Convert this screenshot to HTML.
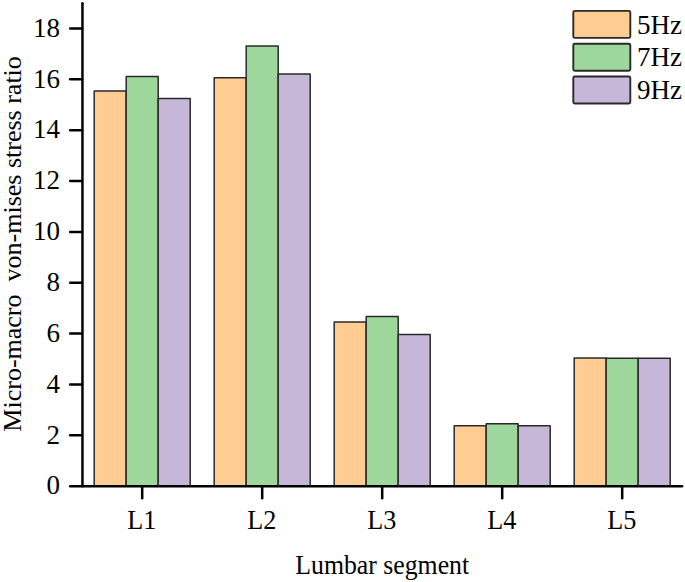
<!DOCTYPE html>
<html><head><meta charset="utf-8"><style>
html,body{margin:0;padding:0;background:#fff;}
svg{display:block;}
.t{font-family:"Liberation Serif",serif;font-size:27px;fill:#000;}
.t2{font-family:"Liberation Serif",serif;font-size:26px;fill:#000;}
</style></head><body>
<svg width="685" height="582" viewBox="0 0 685 582">
<rect x="94.20" y="91.02" width="32" height="395.18" fill="#FFCD92" stroke="#2a2a2a" stroke-width="1.5" stroke-linejoin="round"/>
<rect x="126.20" y="76.52" width="32" height="409.68" fill="#9DD79C" stroke="#2a2a2a" stroke-width="1.5" stroke-linejoin="round"/>
<rect x="158.20" y="98.39" width="32" height="387.81" fill="#C6B6D8" stroke="#2a2a2a" stroke-width="1.5" stroke-linejoin="round"/>
<rect x="214.20" y="77.79" width="32" height="408.41" fill="#FFCD92" stroke="#2a2a2a" stroke-width="1.5" stroke-linejoin="round"/>
<rect x="246.20" y="46.01" width="32" height="440.19" fill="#9DD79C" stroke="#2a2a2a" stroke-width="1.5" stroke-linejoin="round"/>
<rect x="278.20" y="73.98" width="32" height="412.22" fill="#C6B6D8" stroke="#2a2a2a" stroke-width="1.5" stroke-linejoin="round"/>
<rect x="334.20" y="321.92" width="32" height="164.28" fill="#FFCD92" stroke="#2a2a2a" stroke-width="1.5" stroke-linejoin="round"/>
<rect x="366.20" y="316.58" width="32" height="169.62" fill="#9DD79C" stroke="#2a2a2a" stroke-width="1.5" stroke-linejoin="round"/>
<rect x="398.20" y="334.38" width="32" height="151.82" fill="#C6B6D8" stroke="#2a2a2a" stroke-width="1.5" stroke-linejoin="round"/>
<rect x="454.20" y="425.68" width="32" height="60.52" fill="#FFCD92" stroke="#2a2a2a" stroke-width="1.5" stroke-linejoin="round"/>
<rect x="486.20" y="423.64" width="32" height="62.56" fill="#9DD79C" stroke="#2a2a2a" stroke-width="1.5" stroke-linejoin="round"/>
<rect x="518.20" y="425.68" width="32" height="60.52" fill="#C6B6D8" stroke="#2a2a2a" stroke-width="1.5" stroke-linejoin="round"/>
<rect x="574.20" y="358.03" width="32" height="128.17" fill="#FFCD92" stroke="#2a2a2a" stroke-width="1.5" stroke-linejoin="round"/>
<rect x="606.20" y="358.29" width="32" height="127.91" fill="#9DD79C" stroke="#2a2a2a" stroke-width="1.5" stroke-linejoin="round"/>
<rect x="638.20" y="358.29" width="32" height="127.91" fill="#C6B6D8" stroke="#2a2a2a" stroke-width="1.5" stroke-linejoin="round"/>
<line x1="82.45" y1="3.2" x2="82.45" y2="486.20" stroke="#000" stroke-width="2.5" stroke-linecap="round"/>
<line x1="70.2" y1="486.20" x2="682" y2="486.20" stroke="#000" stroke-width="2.5" stroke-linecap="round"/>
<text x="59.9" y="494.40" text-anchor="end" class="t">0</text>
<line x1="70.2" y1="435.34" x2="82" y2="435.34" stroke="#000" stroke-width="2.5" stroke-linecap="round"/>
<text x="59.9" y="443.54" text-anchor="end" class="t">2</text>
<line x1="70.2" y1="384.48" x2="82" y2="384.48" stroke="#000" stroke-width="2.5" stroke-linecap="round"/>
<text x="59.9" y="392.68" text-anchor="end" class="t">4</text>
<line x1="70.2" y1="333.62" x2="82" y2="333.62" stroke="#000" stroke-width="2.5" stroke-linecap="round"/>
<text x="59.9" y="341.82" text-anchor="end" class="t">6</text>
<line x1="70.2" y1="282.76" x2="82" y2="282.76" stroke="#000" stroke-width="2.5" stroke-linecap="round"/>
<text x="59.9" y="290.96" text-anchor="end" class="t">8</text>
<line x1="70.2" y1="231.90" x2="82" y2="231.90" stroke="#000" stroke-width="2.5" stroke-linecap="round"/>
<text x="59.9" y="240.10" text-anchor="end" class="t">10</text>
<line x1="70.2" y1="181.04" x2="82" y2="181.04" stroke="#000" stroke-width="2.5" stroke-linecap="round"/>
<text x="59.9" y="189.24" text-anchor="end" class="t">12</text>
<line x1="70.2" y1="130.18" x2="82" y2="130.18" stroke="#000" stroke-width="2.5" stroke-linecap="round"/>
<text x="59.9" y="138.38" text-anchor="end" class="t">14</text>
<line x1="70.2" y1="79.32" x2="82" y2="79.32" stroke="#000" stroke-width="2.5" stroke-linecap="round"/>
<text x="59.9" y="87.52" text-anchor="end" class="t">16</text>
<line x1="70.2" y1="28.46" x2="82" y2="28.46" stroke="#000" stroke-width="2.5" stroke-linecap="round"/>
<text x="59.9" y="36.66" text-anchor="end" class="t">18</text>
<line x1="142.20" y1="486.2" x2="142.20" y2="498.3" stroke="#000" stroke-width="2.5" stroke-linecap="round"/>
<text transform="translate(141.70,528.8) scale(0.97,1)" text-anchor="middle" class="t">L1</text>
<line x1="262.20" y1="486.2" x2="262.20" y2="498.3" stroke="#000" stroke-width="2.5" stroke-linecap="round"/>
<text transform="translate(261.70,528.8) scale(0.97,1)" text-anchor="middle" class="t">L2</text>
<line x1="382.20" y1="486.2" x2="382.20" y2="498.3" stroke="#000" stroke-width="2.5" stroke-linecap="round"/>
<text transform="translate(381.70,528.8) scale(0.97,1)" text-anchor="middle" class="t">L3</text>
<line x1="502.20" y1="486.2" x2="502.20" y2="498.3" stroke="#000" stroke-width="2.5" stroke-linecap="round"/>
<text transform="translate(501.70,528.8) scale(0.97,1)" text-anchor="middle" class="t">L4</text>
<line x1="622.20" y1="486.2" x2="622.20" y2="498.3" stroke="#000" stroke-width="2.5" stroke-linecap="round"/>
<text transform="translate(621.70,528.8) scale(0.97,1)" text-anchor="middle" class="t">L5</text>
<text transform="translate(382.2,574) scale(0.955,1)" text-anchor="middle" class="t">Lumbar segment</text>
<text transform="translate(21,243.9) rotate(-90)" text-anchor="middle" class="t2" xml:space="preserve">Micro-macro  von-mises stress ratio</text>
<rect x="573.3" y="10.90" width="57" height="27" rx="1.5" fill="#FFCD92" stroke="#2a2a2a" stroke-width="1.9"/>
<text transform="translate(637.1,33.60) scale(1.0,1)" class="t">5Hz</text>
<rect x="573.3" y="43.70" width="57" height="27" rx="1.5" fill="#9DD79C" stroke="#2a2a2a" stroke-width="1.9"/>
<text transform="translate(637.1,66.40) scale(1.0,1)" class="t">7Hz</text>
<rect x="573.3" y="76.50" width="57" height="27" rx="1.5" fill="#C6B6D8" stroke="#2a2a2a" stroke-width="1.9"/>
<text transform="translate(637.1,99.20) scale(1.0,1)" class="t">9Hz</text>
</svg>
</body></html>
